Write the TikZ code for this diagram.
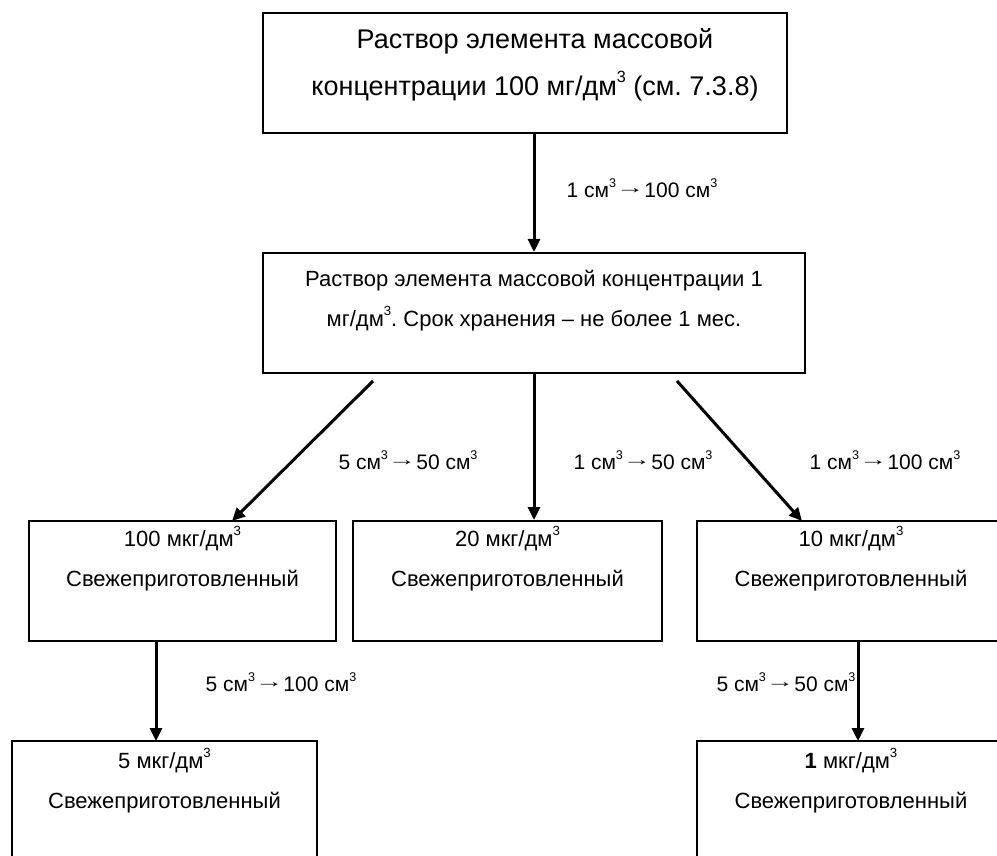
\documentclass[tikz,border=0pt]{standalone}
\usepackage{fontspec}
\setmainfont{Liberation Sans}
\usetikzlibrary{arrows.meta,calc}
\newcommand{\cub}{\raisebox{0.5em}{\scalebox{0.6}{3}}}
\newcommand{\cmc}{см\cub}
\newcommand{\myarr}{\raisebox{0.18em}{\scalebox{1.35}[0.8]{→}}}
\begin{document}
\frenchspacing
\begin{tikzpicture}[x=1pt,y=-1pt,
  box/.style={draw, line width=2pt, minimum width=#1, minimum height=120pt, inner sep=0pt},
  conn/.style={line width=3pt, -{Triangle[length=13pt,width=12pt]}},
  lbl/.style={font=\fontsize{21}{21}\selectfont\frenchspacing, inner sep=0pt},
  bigtxt/.style={font=\fontsize{27}{47}\selectfont\frenchspacing, align=center, inner sep=0pt},
  midtxt/.style={font=\fontsize{22}{40}\selectfont\frenchspacing, align=center, inner sep=0pt},
  smtxt/.style={font=\fontsize{22}{40}\selectfont\frenchspacing, align=center, inner sep=0pt}]
\useasboundingbox (0,0) rectangle (997,856);
\clip (0,0) rectangle (997,856);
\fill[white] (0,0) rectangle (997,856);
% boxes
\node[box=524pt] (b1) at (525,73) {};
\node[box=542pt] (b2) at (534,313) {};
\node[box=307pt] (b3) at (182.5,581) {};
\node[box=309pt] (b4) at (507.5,581) {};
\node[box=308pt] (b5) at (851,581) {};
\node[box=305pt] (b6) at (164.5,801) {};
\node[box=308pt] (b7) at (851,801) {};
% texts
\node[bigtxt] (t1) at (535,65) {Раствор элемента массовой\\концентрации 100 мг/дм\cub{} (см. 7.3.8)};
\node[midtxt] (t2) at (534,301) {Раствор элемента массовой концентрации 1\\мг/дм\cub. Срок хранения – не более 1 мес.};
\node[smtxt] (t3) at (182.5,559) {100 мкг/дм\cub\\Свежеприготовленный};
\node[smtxt] (t4) at (507.5,559) {20 мкг/дм\cub\\Свежеприготовленный};
\node[smtxt] (t5) at (851,559) {10 мкг/дм\cub\\Свежеприготовленный};
\node[smtxt] (t6) at (164.5,781) {5 мкг/дм\cub\\Свежеприготовленный};
\node[smtxt] (t7) at (851,781) {\textbf{1} мкг/дм\cub\\Свежеприготовленный};
% connector end points
\coordinate (dl1) at (373,381);
\coordinate (dl2) at (232,521);
\coordinate (dr1) at (677,381);
\coordinate (dr2) at (802,521);
% connectors
\draw[conn] (b1.south -| b2.north) -- (b2.north);
\draw[conn] (b2.south) -- (b2.south |- b4.north);
\draw[conn] (dl1) -- (dl2);
\draw[conn] (dr1) -- (dr2);
\draw[conn] (156,641) coordinate (c3) -- (156,741) coordinate (c6);
\draw[conn] (858,641) coordinate (c5) -- (858,741) coordinate (c7);
% labels
\node[lbl] (l1) at (642,188) {1 \cmc\myarr100 \cmc};
\node[lbl] (l2) at (408,460) {5 \cmc\myarr50 \cmc};
\node[lbl] (l3) at (643,460) {1 \cmc\myarr50 \cmc};
\node[lbl] (l4) at (885,460) {1 \cmc\myarr100 \cmc};
\node[lbl] (l5) at (281,682) {5 \cmc\myarr100 \cmc};
\node[lbl] (l6) at (786,682) {5 \cmc\myarr50 \cmc};
\end{tikzpicture}
\end{document}
